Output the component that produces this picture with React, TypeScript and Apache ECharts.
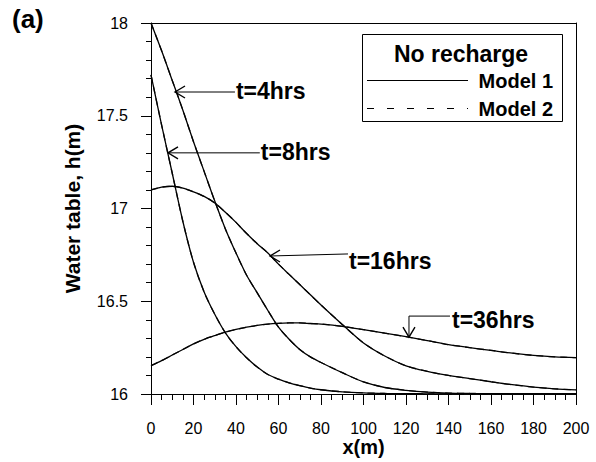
import React, { useEffect, useRef } from "react";
import * as echarts from "echarts";

const FONT = "'Liberation Sans', Arial, Helvetica, sans-serif";

// x positions (m)
const xPositions = [0, 5, 10, 15, 20, 25, 30, 35, 40, 45, 50, 55, 60, 65, 70, 75, 80, 90, 100, 110, 120, 130, 140, 150, 160, 170, 180, 190, 200];

// Model 1 water table h(m)
const h4hrsModel1 = [18.0, 17.85, 17.69, 17.53, 17.36, 17.2, 17.04, 16.89, 16.76, 16.64, 16.545, 16.45, 16.36, 16.295, 16.24, 16.2, 16.17, 16.115, 16.065, 16.035, 16.02, 16.01, 16.005, 16.003, 16.002, 16.001, 16.0, 16.0, 16.0];
const h8hrsModel1 = [17.72, 17.45, 17.19, 16.93, 16.71, 16.55, 16.43, 16.33, 16.255, 16.195, 16.145, 16.105, 16.08, 16.06, 16.045, 16.032, 16.023, 16.012, 16.006, 16.003, 16.002, 16.001, 16.0, 16.0, 16.0, 16.0, 16.0, 16.0, 16.0];
const h16hrsModel1 = [17.1, 17.115, 17.12, 17.11, 17.09, 17.065, 17.03, 16.98, 16.925, 16.865, 16.81, 16.76, 16.7, 16.645, 16.59, 16.535, 16.48, 16.375, 16.275, 16.205, 16.152, 16.122, 16.1, 16.083, 16.066, 16.05, 16.037, 16.028, 16.022];
const h36hrsModel1 = [16.153, 16.18, 16.21, 16.24, 16.27, 16.295, 16.315, 16.333, 16.348, 16.36, 16.37, 16.377, 16.381, 16.383, 16.383, 16.38, 16.377, 16.365, 16.347, 16.328, 16.309, 16.288, 16.266, 16.25, 16.235, 16.22, 16.208, 16.2, 16.196];

// Model 2 (visually coincident with Model 1)
const h4hrsModel2 = [18.0, 17.85, 17.69, 17.53, 17.36, 17.2, 17.04, 16.89, 16.76, 16.64, 16.545, 16.45, 16.36, 16.295, 16.24, 16.2, 16.17, 16.115, 16.065, 16.035, 16.02, 16.01, 16.005, 16.003, 16.002, 16.001, 16.0, 16.0, 16.0];
const h8hrsModel2 = [17.72, 17.45, 17.19, 16.93, 16.71, 16.55, 16.43, 16.33, 16.255, 16.195, 16.145, 16.105, 16.08, 16.06, 16.045, 16.032, 16.023, 16.012, 16.006, 16.003, 16.002, 16.001, 16.0, 16.0, 16.0, 16.0, 16.0, 16.0, 16.0];
const h16hrsModel2 = [17.1, 17.115, 17.12, 17.11, 17.09, 17.065, 17.03, 16.98, 16.925, 16.865, 16.81, 16.76, 16.7, 16.645, 16.59, 16.535, 16.48, 16.375, 16.275, 16.205, 16.152, 16.122, 16.1, 16.083, 16.066, 16.05, 16.037, 16.028, 16.022];
const h36hrsModel2 = [16.153, 16.18, 16.21, 16.24, 16.27, 16.295, 16.315, 16.333, 16.348, 16.36, 16.37, 16.377, 16.381, 16.383, 16.383, 16.38, 16.377, 16.365, 16.347, 16.328, 16.309, 16.288, 16.266, 16.25, 16.235, 16.22, 16.208, 16.2, 16.196];

const timeLabels = ["t=4hrs", "t=8hrs", "t=16hrs", "t=36hrs"];
const model1Series = [h4hrsModel1, h8hrsModel1, h16hrsModel1, h36hrsModel1];
const model2Series = [h4hrsModel2, h8hrsModel2, h16hrsModel2, h36hrsModel2];

// annotation anchors in data coordinates
const annotationTips = [
  [11.3, 17.628],
  [8.0, 17.3],
  [56.0, 16.744],
  [121.4, 16.307],
];
const annotationTextX = [39.5, 51.2, 92.7, 140.7];
const annotationLineH = [17.628, 17.3, 16.755, 16.42];

export default function App() {
  const ref = useRef<HTMLDivElement>(null);

  useEffect(() => {
    if (!ref.current) return;
    const chart = echarts.init(ref.current, null, { renderer: "svg" });

    const series: any[] = [];
    model1Series.forEach((arr, i) => {
      series.push({
        name: "Model 1",
        id: "m1-" + timeLabels[i],
        type: "line",
        xAxisIndex: 0,
        yAxisIndex: 0,
        data: xPositions.map((x, j) => [x, arr[j]]),
        showSymbol: false,
        symbol: "none",
        smooth: 0.3,
        lineStyle: { color: "#000", width: 1.3, type: "solid" },
        z: 3,
      });
    });
    model2Series.forEach((arr, i) => {
      series.push({
        name: "Model 2",
        id: "m2-" + timeLabels[i],
        type: "line",
        xAxisIndex: 0,
        yAxisIndex: 0,
        data: xPositions.map((x, j) => [x, arr[j]]),
        showSymbol: false,
        symbol: "none",
        smooth: 0.3,
        lineStyle: { color: "#222", width: 1.3, type: [7, 5] },
        z: 2,
      });
    });

    const frameAxis = {
      axisLine: { show: true, onZero: false, lineStyle: { color: "#000", width: 1 } },
      axisTick: { show: false },
      axisLabel: { show: false },
      splitLine: { show: false },
    };

    chart.setOption({
      animation: false,
      backgroundColor: "#fff",
      textStyle: { fontFamily: FONT, color: "#000" },
      grid: {
        left: 151,
        right: 20,
        top: 23,
        bottom: 68,
        outerBoundsMode: "none",
        containLabel: false,
      },
      xAxis: [
        {
          type: "value",
          position: "bottom",
          min: 0,
          max: 200,
          interval: 20,
          name: "x(m)",
          nameLocation: "middle",
          nameGap: 43,
          nameMoveOverlap: false,
          nameTextStyle: { fontWeight: "bold", fontSize: 20, color: "#000", fontFamily: FONT },
          axisLine: { show: true, onZero: false, lineStyle: { color: "#000" } },
          axisTick: { show: true, length: 11, lineStyle: { color: "#000", width: 1 } },
          minorTick: { show: true, splitNumber: 4, length: 6, lineStyle: { color: "#000", width: 1 } },
          splitLine: { show: false },
          axisLabel: { color: "#000", fontSize: 16, margin: 26, fontFamily: FONT },
        },
        { type: "value", position: "top", min: 0, max: 200, ...frameAxis },
      ],
      yAxis: [
        {
          type: "value",
          position: "left",
          min: 16,
          max: 18,
          interval: 0.5,
          name: "Water table, h(m)",
          nameLocation: "middle",
          nameGap: 68,
          nameMoveOverlap: false,
          nameTextStyle: { fontWeight: "bold", fontSize: 21, color: "#000", fontFamily: FONT },
          axisLine: { show: true, onZero: false, lineStyle: { color: "#000" } },
          axisTick: { show: true, length: 10, lineStyle: { color: "#000", width: 1 } },
          minorTick: { show: true, splitNumber: 5, length: 5, lineStyle: { color: "#000", width: 1 } },
          splitLine: { show: false },
          axisLabel: { color: "#000", fontSize: 16, margin: 23, fontFamily: FONT },
        },
        { type: "value", position: "right", min: 16, max: 18, ...frameAxis },
      ],
      series,
    });

    const toPx = (p: number[]) => chart.convertToPixel({ xAxisIndex: 0, yAxisIndex: 0 }, p) as number[];

    const graphics: any[] = [];
    graphics.push({
      type: "text",
      left: 12,
      top: 6,
      style: { text: "(a)", font: `bold 26px ${FONT}`, fill: "#000" },
    });

    annotationTips.forEach((tip, i) => {
      const [tx, ty] = toPx(tip);
      const textStart = toPx([annotationTextX[i], annotationLineH[i]]);
      const lineY = textStart[1];
      const stroke = { stroke: "#000", lineWidth: 1, fill: "none" };
      if (i < 3) {
        graphics.push({
          type: "line",
          shape: { x1: tx, y1: ty, x2: textStart[0], y2: lineY },
          style: { ...stroke },
          z: 10,
        });
        graphics.push({
          type: "polyline",
          shape: { points: [[tx + 10, ty - 6], [tx, ty], [tx + 10, ty + 6]] },
          style: { ...stroke, lineWidth: 1.4 },
          z: 10,
        });
        const dy = i === 2 ? 7 : -1;
        graphics.push({
          type: "text",
          x: textStart[0] + 1,
          y: lineY + dy,
          style: {
            text: timeLabels[i],
            font: `bold 23px ${FONT}`,
            fill: "#000",
            textAlign: "left",
            verticalAlign: "middle",
          },
          z: 10,
        });
      } else {
        graphics.push({
          type: "polyline",
          shape: { points: [[tx, ty], [tx, lineY], [textStart[0], lineY]] },
          style: { ...stroke },
          z: 10,
        });
        graphics.push({
          type: "polyline",
          shape: { points: [[tx - 6, ty - 10], [tx, ty], [tx + 6, ty - 10]] },
          style: { ...stroke, lineWidth: 1.4 },
          z: 10,
        });
        graphics.push({
          type: "text",
          x: textStart[0] + 2,
          y: lineY + 4,
          style: {
            text: timeLabels[i],
            font: `bold 23px ${FONT}`,
            fill: "#000",
            textAlign: "left",
            verticalAlign: "middle",
          },
          z: 10,
        });
      }
    });

    // legend box
    graphics.push({
      type: "rect",
      shape: { x: 362.5, y: 34.5, width: 200, height: 87 },
      style: { fill: "#fff", stroke: "#000", lineWidth: 1 },
      z: 20,
    });
    graphics.push({
      type: "text",
      x: 461,
      y: 54,
      style: { text: "No recharge", font: `bold 23px ${FONT}`, fill: "#000", textAlign: "center", verticalAlign: "middle" },
      z: 21,
    });
    graphics.push({
      type: "line",
      shape: { x1: 367, y1: 80.5, x2: 468, y2: 80.5 },
      style: { stroke: "#000", lineWidth: 1.2 },
      z: 21,
    });
    graphics.push({
      type: "text",
      x: 553,
      y: 81,
      style: { text: "Model 1", font: `bold 20px ${FONT}`, fill: "#000", textAlign: "right", verticalAlign: "middle" },
      z: 21,
    });
    graphics.push({
      type: "line",
      shape: { x1: 367, y1: 108.5, x2: 468, y2: 108.5 },
      style: { stroke: "#000", lineWidth: 1.2, lineDash: [7, 13] },
      z: 21,
    });
    graphics.push({
      type: "text",
      x: 553,
      y: 109,
      style: { text: "Model 2", font: `bold 20px ${FONT}`, fill: "#000", textAlign: "right", verticalAlign: "middle" },
      z: 21,
    });

    chart.setOption({ graphic: graphics });

    return () => {
      chart.dispose();
    };
  }, []);

  return (
    <div
      ref={ref}
      style={{ position: "fixed", left: 0, top: 0, width: 596, height: 462, background: "#fff" }}
    />
  );
}
